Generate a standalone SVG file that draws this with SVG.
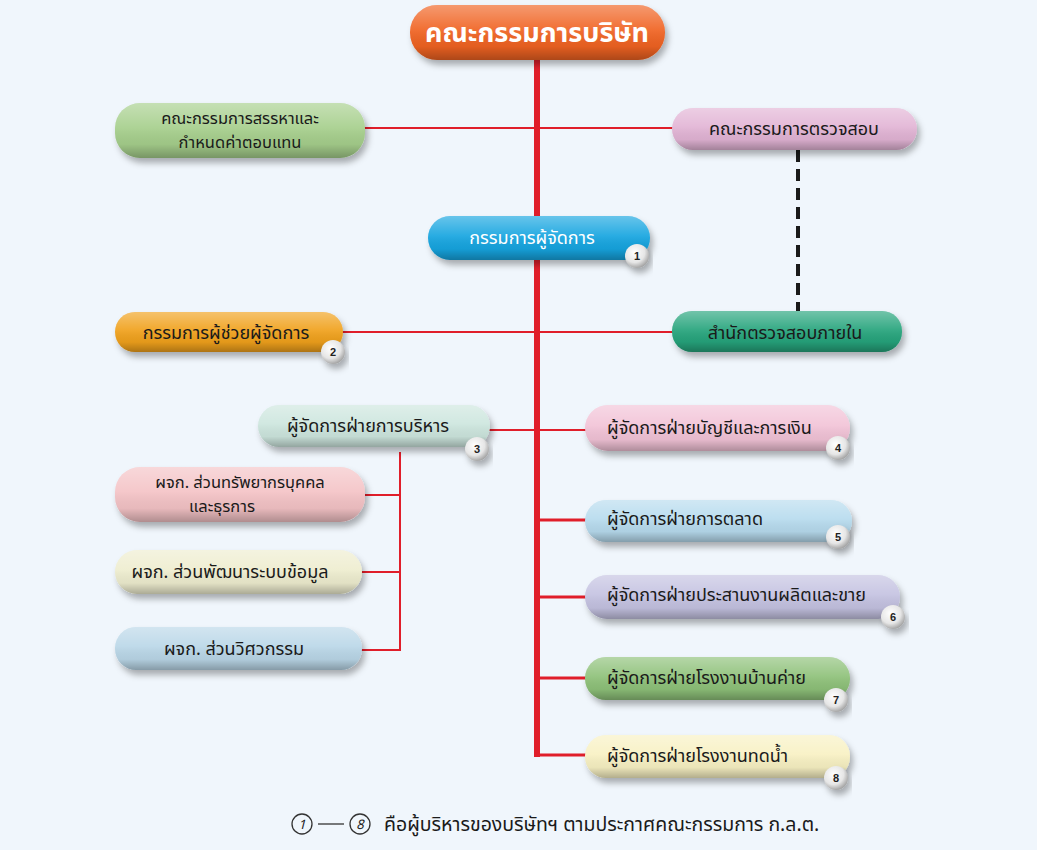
<svg xmlns="http://www.w3.org/2000/svg" width="1037" height="850" viewBox="0 0 1037 850">
<defs>
<linearGradient id="gloss" x1="0" y1="0" x2="0" y2="1">
<stop offset="0" stop-color="#ffffff" stop-opacity="0.35"/>
<stop offset="0.45" stop-color="#ffffff" stop-opacity="0.08"/>
<stop offset="0.75" stop-color="#000000" stop-opacity="0.05"/>
<stop offset="1" stop-color="#000000" stop-opacity="0.28"/>
</linearGradient>
<radialGradient id="ball" cx="0.4" cy="0.35" r="0.7">
<stop offset="0" stop-color="#ffffff"/>
<stop offset="0.6" stop-color="#e6e6e6"/>
<stop offset="1" stop-color="#9a9a9a"/>
</radialGradient>
<filter id="sh" x="-10%" y="-30%" width="125%" height="180%">
<feDropShadow dx="3" dy="5" stdDeviation="3" flood-color="#000" flood-opacity="0.3"/>
</filter>
</defs>
<style>
.t{font-family:"Noto Sans Thai","Noto Sans","DejaVu Sans",sans-serif;font-size:18px;fill:#1a1a1a}
.s{font-size:16.5px}
.w{fill:#ffffff}
.c{text-anchor:middle}
.g{fill:url(#gloss)}
.b{fill:url(#ball);filter:url(#sh)}
.n{font-family:"Liberation Sans",sans-serif;font-size:11px;font-weight:bold;fill:#222;text-anchor:middle}
.red{stroke:#e01e2a;fill:none}
</style>
<rect x="0" y="0" width="1037" height="850" fill="#f0f6fc"/>
<g id="connectors">
<line class="red" x1="537" y1="58" x2="537" y2="757" stroke-width="6"/>
<line class="red" x1="362" y1="128" x2="674" y2="128" stroke-width="2"/>
<line class="red" x1="340" y1="332" x2="674" y2="332" stroke-width="2"/>
<line class="red" x1="488" y1="430" x2="587" y2="430" stroke-width="2"/>
<line class="red" x1="400" y1="452" x2="400" y2="650" stroke-width="2"/>
<line class="red" x1="362" y1="495" x2="401" y2="495" stroke-width="2"/>
<line class="red" x1="360" y1="572" x2="401" y2="572" stroke-width="2"/>
<line class="red" x1="360" y1="650" x2="401" y2="650" stroke-width="2"/>
<line class="red" x1="537" y1="520" x2="587" y2="520" stroke-width="3"/>
<line class="red" x1="537" y1="597" x2="587" y2="597" stroke-width="3"/>
<line class="red" x1="537" y1="678" x2="587" y2="678" stroke-width="3"/>
<line class="red" x1="537" y1="755" x2="587" y2="755" stroke-width="3"/>
<line x1="798" y1="150" x2="798" y2="313" stroke="#1a1a1a" stroke-width="4" stroke-dasharray="12,7"/>
</g>
<g id="board">
<rect x="410" y="5" width="255" height="55" rx="27" fill="#f06424" filter="url(#sh)"/>
<rect x="410" y="5" width="255" height="55" rx="27" class="g"/>
<text x="537" y="42" class="t w c" style="font-size:27px;font-weight:bold">คณะกรรมการบริษัท</text>
</g>
<g id="nomination">
<rect x="115" y="103" width="250" height="55" rx="25" fill="#a6cf8c" filter="url(#sh)"/>
<rect x="115" y="103" width="250" height="55" rx="25" class="g"/>
<text x="240" y="124" class="t s c">คณะกรรมการสรรหาและ</text>
<text x="240" y="148" class="t s c">กำหนดค่าตอบแทน</text>
</g>
<g id="audit-committee">
<rect x="672" y="108" width="245" height="42" rx="21" fill="#e2b4d5" filter="url(#sh)"/>
<rect x="672" y="108" width="245" height="42" rx="21" class="g"/>
<text x="794" y="135" class="t c">คณะกรรมการตรวจสอบ</text>
</g>
<g id="md">
<rect x="428" y="216" width="222" height="44" rx="22" fill="#18a5e0" filter="url(#sh)"/>
<rect x="428" y="216" width="222" height="44" rx="22" class="g"/>
<text x="532" y="244" class="t w c">กรรมการผู้จัดการ</text>
<circle cx="637" cy="256" r="12" class="b"/>
<text x="637" y="260" class="n">1</text>
</g>
<g id="asst-md">
<rect x="115" y="312" width="228" height="40" rx="20" fill="#f0a11e" filter="url(#sh)"/>
<rect x="115" y="312" width="228" height="40" rx="20" class="g"/>
<text x="226" y="339" class="t c">กรรมการผู้ช่วยผู้จัดการ</text>
<circle cx="333" cy="352" r="12" class="b"/>
<text x="333" y="356" class="n">2</text>
</g>
<g id="internal-audit">
<rect x="672" y="311" width="230" height="41" rx="20" fill="#26a47b" filter="url(#sh)"/>
<rect x="672" y="311" width="230" height="41" rx="20" class="g"/>
<text x="785" y="339" class="t c">สำนักตรวจสอบภายใน</text>
</g>
<g id="admin">
<rect x="258" y="405" width="232" height="42" rx="21" fill="#cde6de" filter="url(#sh)"/>
<rect x="258" y="405" width="232" height="42" rx="21" class="g"/>
<text x="368" y="432" class="t c">ผู้จัดการฝ่ายการบริหาร</text>
<circle cx="477" cy="449" r="12" class="b"/>
<text x="477" y="453" class="n">3</text>
</g>
<g id="accounting">
<rect x="585" y="405" width="265" height="46" rx="23" fill="#f2c3d7" filter="url(#sh)"/>
<rect x="585" y="405" width="265" height="46" rx="23" class="g"/>
<text x="607" y="434" class="t">ผู้จัดการฝ่ายบัญชีและการเงิน</text>
<circle cx="838" cy="448" r="12" class="b"/>
<text x="838" y="452" class="n">4</text>
</g>
<g id="hr">
<rect x="115" y="467" width="250" height="55" rx="25" fill="#f4c3c6" filter="url(#sh)"/>
<rect x="115" y="467" width="250" height="55" rx="25" class="g"/>
<text x="240" y="488" class="t s c">ผจก. ส่วนทรัพยากรบุคคล</text>
<text x="222" y="512" class="t s c">และธุรการ</text>
</g>
<g id="it">
<rect x="115" y="550" width="247" height="44" rx="22" fill="#eeedcf" filter="url(#sh)"/>
<rect x="115" y="550" width="247" height="44" rx="22" class="g"/>
<text x="230" y="578" class="t c">ผจก. ส่วนพัฒนาระบบข้อมูล</text>
</g>
<g id="engineering">
<rect x="115" y="627" width="247" height="43" rx="21" fill="#bad7e8" filter="url(#sh)"/>
<rect x="115" y="627" width="247" height="43" rx="21" class="g"/>
<text x="234" y="655" class="t c">ผจก. ส่วนวิศวกรรม</text>
</g>
<g id="marketing">
<rect x="585" y="500" width="267" height="42" rx="21" fill="#b7dbee" filter="url(#sh)"/>
<rect x="585" y="500" width="267" height="42" rx="21" class="g"/>
<text x="607" y="525" class="t">ผู้จัดการฝ่ายการตลาด</text>
<circle cx="838" cy="537" r="12" class="b"/>
<text x="838" y="541" class="n">5</text>
</g>
<g id="coordination">
<rect x="585" y="575" width="315" height="44" rx="22" fill="#c4c2e1" filter="url(#sh)"/>
<rect x="585" y="575" width="315" height="44" rx="22" class="g"/>
<text x="607" y="601" class="t">ผู้จัดการฝ่ายประสานงานผลิตและขาย</text>
<circle cx="893" cy="617" r="12" class="b"/>
<text x="893" y="621" class="n">6</text>
</g>
<g id="plant-bankhai">
<rect x="585" y="657" width="265" height="43" rx="21" fill="#8ec179" filter="url(#sh)"/>
<rect x="585" y="657" width="265" height="43" rx="21" class="g"/>
<text x="607" y="684" class="t">ผู้จัดการฝ่ายโรงงานบ้านค่าย</text>
<circle cx="836" cy="700" r="12" class="b"/>
<text x="836" y="704" class="n">7</text>
</g>
<g id="plant-2">
<rect x="585" y="735" width="265" height="43" rx="21" fill="#f8f1c3" filter="url(#sh)"/>
<rect x="585" y="735" width="265" height="43" rx="21" class="g"/>
<text x="607" y="762" class="t">ผู้จัดการฝ่ายโรงงานทดน้ำ</text>
<circle cx="836" cy="778" r="12" class="b"/>
<text x="836" y="782" class="n">8</text>
</g>
<g id="footnote">
<circle cx="302" cy="824" r="10" fill="none" stroke="#333" stroke-width="1.3"/>
<text x="302" y="829" class="t c" style="font-size:13px;font-style:italic">1</text>
<line x1="318" y1="824" x2="344" y2="824" stroke="#333" stroke-width="1.3"/>
<circle cx="360" cy="824" r="10" fill="none" stroke="#333" stroke-width="1.3"/>
<text x="360" y="829" class="t c" style="font-size:13px;font-style:italic">8</text>
<text x="384" y="831" class="t" style="font-size:19.5px">คือผู้บริหารของบริษัทฯ ตามประกาศคณะกรรมการ ก.ล.ต.</text>
</g>
</svg>
